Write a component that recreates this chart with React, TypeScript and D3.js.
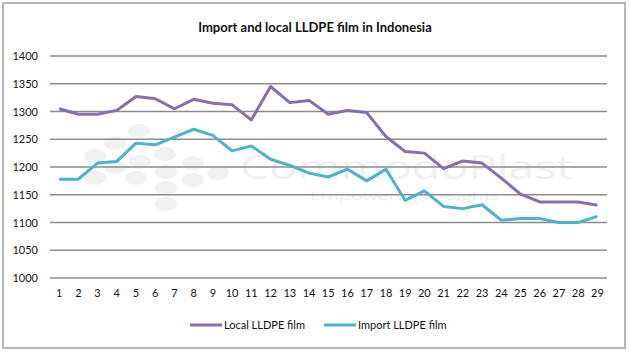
import React from "react";
import * as d3 from "d3";

const categories = Array.from({ length: 29 }, (_, i) => String(i + 1));
const localValues = [1305, 1295, 1295, 1302, 1327, 1323, 1305, 1322, 1315, 1312, 1285, 1345, 1316, 1320, 1295, 1302, 1298, 1255, 1228, 1225, 1197, 1211, 1207, 1180, 1151, 1137, 1137, 1137, 1131];
const importValues = [1178, 1178, 1207, 1210, 1243, 1240, 1254, 1268, 1257, 1229, 1238, 1214, 1203, 1189, 1182, 1196, 1175, 1196, 1140, 1157, 1129, 1125, 1132, 1104, 1107, 1107, 1100, 1100, 1111];
const yTicks = [1000, 1050, 1100, 1150, 1200, 1250, 1300, 1350, 1400];
const seriesNames = ["Local LLDPE film", "Import LLDPE film"];
const colors = ["#8A6DAE", "#4BB4CC"];

const W = 630, H = 354;
const plotLeft = 50, plotRight = 607, plotTop = 56, plotBottom = 278;
const font = "Lato, 'Open Sans', sans-serif";

export default function App() {
  const x = d3.scaleBand<string>().domain(categories).range([plotLeft - 0.5, plotRight]);
  const y = d3.scaleLinear().domain([1000, 1400]).range([plotBottom, plotTop]);
  const cx = (c: string) => (x(c) ?? 0) + x.bandwidth() / 2;
  const line = d3.line<number>().x((_, i) => cx(categories[i])).y((v) => y(v));
  const series = [localValues, importValues];

  const dots: [number, number][] = [
    [139, 131], [115, 143], [95, 156], [165, 154], [193, 163], [115, 167], [136, 178],
    [166, 172], [193, 180], [218, 173], [166, 188], [166, 204], [140, 162], [95, 178],
  ];

  return (
    <svg width={W} height={H} style={{ position: "absolute", left: 0, top: 0, background: "#fff" }} fontFamily={font}>
      <rect x={3} y={3} width={622} height={345} fill="#fff" stroke="#a0a0a0" strokeWidth={1.5} />
      {/* watermark */}
      <g fill="#f0f1f1">
        {dots.map(([a, b], i) => (
          <ellipse key={i} cx={a} cy={b} rx={11} ry={7} />
        ))}
        <text x={240} y={179} fontSize={32} fontFamily="'Open Sans', sans-serif" textLength={333} lengthAdjust="spacingAndGlyphs">CommodoPlast</text>
        <text x={310} y={200} fontSize={11} fontFamily="'Open Sans', sans-serif" textLength={190} lengthAdjust="spacingAndGlyphs">Empowering Insights</text>
      </g>
      <text x={315} y={32} textAnchor="middle" fontSize={13} fontWeight="bold" fill="#111">
        Import and local LLDPE film in Indonesia
      </text>
      {yTicks.map((t) => (
        <g key={t}>
          <line x1={plotLeft} x2={plotRight} y1={y(t)} y2={y(t)} stroke="#8c8c8c" strokeWidth={1.5} />
          <text x={38} y={y(t) + 4} textAnchor="end" fontSize={11} fill="#111">{t}</text>
        </g>
      ))}
      {categories.map((c) => (
        <text key={c} x={cx(c)} y={297} textAnchor="middle" fontSize={11} fill="#111">{c}</text>
      ))}
      {series.map((s, i) => (
        <path key={i} d={line(s) ?? ""} fill="none" stroke={colors[i]} strokeWidth={3} strokeLinejoin="round" />
      ))}
      {seriesNames.map((n, i) => {
        const lx = 190 + i * 134;
        return (
          <g key={n}>
            <line x1={lx} x2={lx + 32} y1={325} y2={325} stroke={colors[i]} strokeWidth={3} />
            <text x={lx + 34} y={329} fontSize={11} fill="#111">{n}</text>
          </g>
        );
      })}
    </svg>
  );
}
